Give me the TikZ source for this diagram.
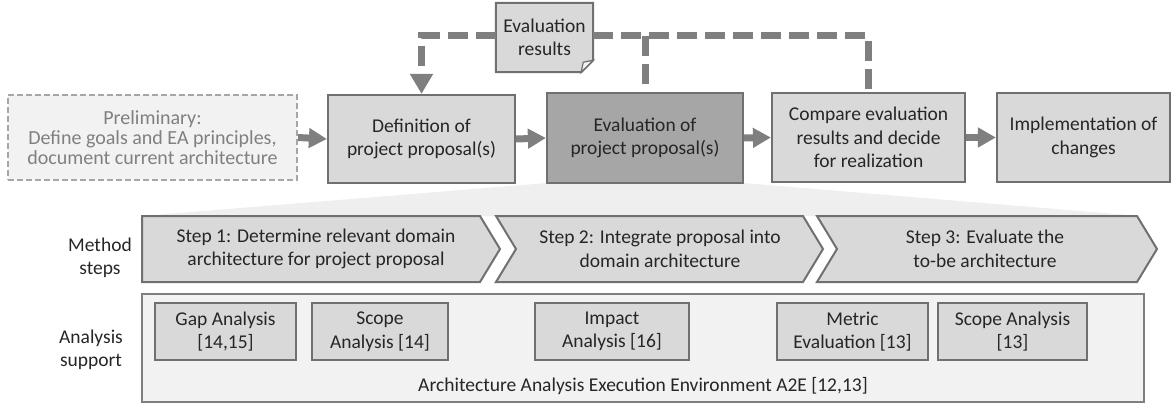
\documentclass[tikz,border=0pt]{standalone}
\usepackage{fontspec}
\setmainfont{Carlito}
\usetikzlibrary{arrows.meta}
\definecolor{txt}{HTML}{262626}
\definecolor{linegray}{HTML}{7F7F7F}
\definecolor{bordergray}{HTML}{707070}
\definecolor{lightfill}{HTML}{D9D9D9}
\definecolor{darkfill}{HTML}{A6A6A6}
\definecolor{palefill}{HTML}{F2F2F2}
\definecolor{wedge}{HTML}{EFEFEF}
\definecolor{pretext}{HTML}{808080}
\tikzset{
  base/.style={font=\fontsize{19.5}{23.5}\selectfont, text=txt, align=center, inner sep=0pt},
  procbox/.style={base, draw=bordergray, line width=2.2pt, fill=lightfill},
  prebox/.style={base, font=\fontsize{20}{20}\selectfont, draw=darkfill, line width=2pt, dash pattern=on 6pt off 3pt, fill=palefill, text=pretext},
  anabox/.style={base, draw=bordergray, line width=2pt, fill=lightfill, minimum height=57pt},
  chev/.style={draw=bordergray, line width=2pt, fill=lightfill, line join=miter},
  flow/.style={draw=linegray, line width=7pt, -{Triangle[length=18pt,width=19pt]}},
  fb/.style={draw=linegray, line width=7pt, dash pattern=on 20pt off 8pt},
  lbl/.style={base}
}
\begin{document}
\begin{tikzpicture}[x=1pt,y=-1pt]
\useasboundingbox (0,0) rectangle (1173,404);
% zoom wedge
\fill[wedge] (547,183) -- (743,183) -- (1140,216) -- (142,216) -- cycle;
% top row
\node[prebox, minimum width=289pt, minimum height=85pt] (pre) at (152.5,137.5) {Preliminary:\\Define goals and EA principles,\\document current architecture};
\node[procbox, minimum width=187pt, minimum height=88pt] (def) at (421.5,139) {Definition of\\project proposal(s)};
\node[procbox, fill=darkfill, minimum width=196pt, minimum height=90pt] (eval) at (645,138) {Evaluation of\\project proposal(s)};
\node[procbox, minimum width=193pt, minimum height=89pt] (cmp) at (868.5,137.5) {Compare evaluation\\results and decide\\for realization};
\node[procbox, minimum width=173pt, minimum height=89pt] (impl) at (1083.5,137.5) {Implementation of\\changes};
% evaluation results note
\node[base, minimum width=97pt, minimum height=69pt] (res) at (544.5,37.5) {};
\draw[draw=bordergray, line width=2pt, fill=lightfill, line join=miter]
  (res.north west) -- (res.north east) -- ([yshift=12pt]res.south east) -- ([xshift=-12pt]res.south east) -- (res.south west) -- cycle;
\draw[draw=bordergray, line width=1.2pt, fill=palefill]
  ([xshift=-12pt]res.south east) -- ([xshift=-10pt,yshift=10pt]res.south east) -- ([yshift=12pt]res.south east) -- cycle;
\node[base] (rest) at (res.center) {Evaluation\\results};
% flow arrows
\draw[flow] (pre.east) -- (def.west);
\draw[flow] (def.east) -- (eval.west);
\draw[flow] (eval.east) -- (cmp.west);
\draw[flow] (cmp.east) -- (impl.west);
% feedback
\coordinate (fb) at (0,36);
\draw[fb, -{Triangle[length=20pt,width=22pt]}] (res.west |- fb) -- (def.north |- fb) -- (def.north);
\draw[fb] (res.east |- fb) -- (cmp.north |- fb) -- (cmp.north);
\draw[fb] (eval.north |- fb) -- (eval.north);
% method steps
\draw[chev] (142,216) -- (480,216) -- (500,249) -- (480,282) -- (142,282) -- cycle;
\draw[chev] (496,216) -- (803,216) -- (823,249) -- (803,282) -- (496,282) -- (516,249) -- cycle;
\draw[chev] (817,216) -- (1137,216) -- (1157,249) -- (1137,282) -- (817,282) -- (837,249) -- cycle;
\node[lbl] (s1) at (316,249) {Step 1: Determine relevant domain\\architecture for project proposal};
\node[lbl] (s2) at (660,249) {Step 2: Integrate proposal into\\domain architecture};
\node[lbl] (s3) at (985,249) {Step 3: Evaluate the\\to-be architecture};
\node[lbl] (ms) at (100,258) {Method\\steps};
% analysis support
\node[draw=linegray, line width=2pt, fill=palefill, minimum width=1002pt, minimum height=108pt, inner sep=0pt] (env) at (643,348) {};
\node[lbl] (envl) at (643,386) {Architecture Analysis Execution Environment A2E [12,13]};
\node[anabox, minimum width=141pt] (gap) at (225.5,331.5) {Gap Analysis\\{[14,15]}};
\node[anabox, minimum width=136pt] (sc14) at (380,331.5) {Scope\\Analysis [14]};
\node[anabox, minimum width=154pt] (imp) at (612,331.5) {Impact\\Analysis [16]};
\node[anabox, minimum width=151pt] (met) at (852.5,331.5) {Metric\\Evaluation [13]};
\node[anabox, minimum width=149pt] (sc13) at (1012.5,331.5) {Scope Analysis\\{[13]}};
\node[lbl] (as) at (91,350) {Analysis\\support};
\end{tikzpicture}
\end{document}
